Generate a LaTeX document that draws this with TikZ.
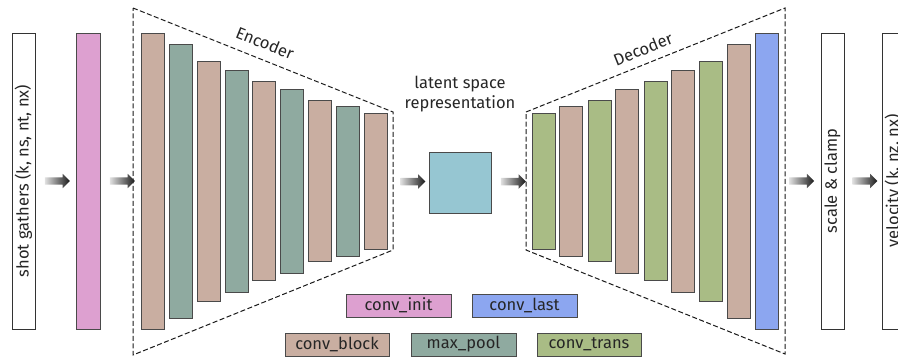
\documentclass[tikz,border=0pt]{standalone}
\usepackage{fontspec}
\setmainfont{Fira Sans}
\usepackage{tikz}
\usetikzlibrary{calc,positioning,shapes.arrows}

\definecolor{blockcol}{HTML}{C9AEA1}
\definecolor{poolcol}{HTML}{8FAAA0}
\definecolor{initcol}{HTML}{DDA0D0}
\definecolor{transcol}{HTML}{A9BC85}
\definecolor{lastcol}{HTML}{8CA6F0}
\definecolor{latentcol}{HTML}{96C6D2}
\definecolor{edgecol}{HTML}{4A4A4A}

\tikzset{
	layer/.style={
			draw=edgecol, line width=0.9pt, inner sep=0pt, minimum width=23pt},
	convblock/.style={layer, fill=blockcol},
	maxpool/.style={layer, fill=poolcol},
	convtrans/.style={layer, fill=transcol},
	io/.style={
			draw=black!80, line width=0.7pt, fill=white, inner sep=0pt,
			minimum width=296pt, minimum height=23pt, rotate=90},
	legend/.style={
			draw=edgecol, line width=0.9pt, inner sep=0pt,
			minimum width=104pt, minimum height=23pt},
	fatarrow/.style={
			single arrow, draw=none, inner sep=3.5pt, minimum height=25pt,
			single arrow head extend=3.5pt, single arrow head indent=0pt,
			left color=black!12, right color=black!90},
	trapez/.style={dash pattern=on 5pt off 2.5pt, line width=1pt, black!90}
}

\begin{document}
\begin{tikzpicture}[x=1pt, y=-1pt, font=\fontsize{16.5}{19}\selectfont, text=black!85]

			\useasboundingbox (0,0) rectangle (898,362);
			\clip (0,0) rectangle (898,362);

			% Draw the input and the first layer
			\node[io] (shot) at (23.5,181) {shot gathers (k, ns, nt, nx)};
			\node[layer, fill=initcol, minimum width=24pt, minimum height=296pt] (init) at (88,181) {};

			% Draw the encoder
			\draw[trapez] (133,8) -- (393,112) -- (393,250) -- (133,355) -- cycle;
			\node[rotate=-21.8] at (265,43) {Encoder};
			\node[convblock, minimum height=296pt] (e1) at (152.5,181) {};
			\node[maxpool, minimum height=274pt] (e2) at (180.5,181) {};
			\node[convblock, minimum height=240pt] (e3) at (208.5,181) {};
			\node[maxpool, minimum height=222pt] (e4) at (236.5,181) {};
			\node[convblock, minimum height=199pt] (e5) at (264,181) {};
			\node[maxpool, minimum height=184pt] (e6) at (292,181) {};
			\node[convblock, minimum height=161pt] (e7) at (319.5,181) {};
			\node[maxpool, minimum height=150pt] (e8) at (347.5,181) {};
			\node[convblock, minimum height=136pt] (e9) at (375.5,181) {};

			% Draw the latent space
			\node[layer, fill=latentcol, minimum width=62pt, minimum height=61pt] (latent) at (460,182.5) {};
			\node[align=center, font=\fontsize{16.5}{20}\selectfont, above=36pt of latent.north] (latentlabel) {latent space\\representation};

			% Draw the decoder
			\draw[trapez] (526,112) -- (785,8) -- (785,354) -- (526,250) -- cycle;
			\node[rotate=21.8] at (643,49) {Decoder};
			\node[convtrans, minimum height=136pt] (d1) at (543.5,181) {};
			\node[convblock, minimum height=150pt] (d2) at (571,181) {};
			\node[convtrans, minimum height=161pt] (d3) at (599.5,181) {};
			\node[convblock, minimum height=184pt] (d4) at (627,181) {};
			\node[convtrans, minimum height=199pt] (d5) at (655.5,181) {};
			\node[convblock, minimum height=222pt] (d6) at (683,181) {};
			\node[convtrans, minimum height=240pt] (d7) at (711,181) {};
			\node[convblock, minimum height=274pt] (d8) at (738.5,181) {};
			\node[layer, fill=lastcol, minimum height=296pt] (d9) at (767,181) {};

			% Draw the output
			\node[io] (scale) at (832.5,181) {scale \& clamp};
			\node[io] (velocity) at (893.5,181) {velocity (k, nz, nx)};

			% Draw the arrows
			\path (shot) -- node[fatarrow] {} (init);
			\path (init) -- node[fatarrow] {} (e1);
			\path (e9) -- node[fatarrow, xshift=3pt] {} (latent);
			\path (latent) -- node[fatarrow] {} (d1);
			\path (d9) -- node[fatarrow] {} (scale);
			\path (scale) -- node[fatarrow] {} (velocity);

			% Draw the legend
			\node[legend, fill=initcol, minimum width=105pt] (leginit) at (398.5,305.5) {conv\_init};
			\node[legend, fill=lastcol, minimum width=105pt] (leglast) at (524.5,305.5) {conv\_last};
			\node[legend, fill=blockcol] (legblock) at (337,344.5) {conv\_block};
			\node[legend, fill=poolcol, minimum width=105pt] (legpool) at (463.5,344.5) {max\_pool};
			\node[legend, fill=transcol] (legtrans) at (589,344.5) {conv\_trans};

		\end{tikzpicture}
\end{document}
